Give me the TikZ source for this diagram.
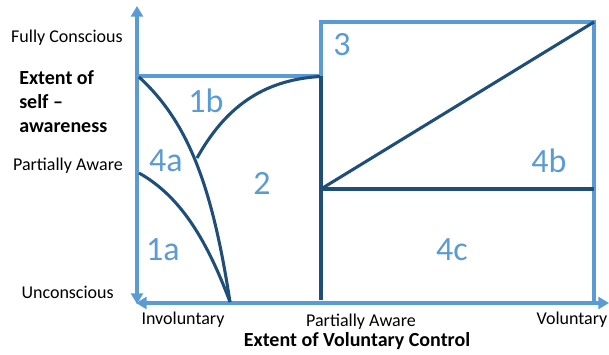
\documentclass[tikz,border=0pt]{standalone}
\usepackage{fontspec}
\setmainfont{Carlito}
\usetikzlibrary{arrows.meta}
\definecolor{lblue}{HTML}{5B9BD5}
\definecolor{dblue}{HTML}{1F4E79}
\tikzset{
  light/.style={draw=lblue, line width=3pt},
  dark/.style={draw=dblue, line width=2.3pt},
  axisarrow/.style={light, {Triangle[width=9pt,length=8pt]}-{Triangle[width=9pt,length=8pt]}},
  region/.style={text=lblue, font=\fontsize{25.5}{27}\selectfont, inner sep=0pt},
  tick/.style={font=\fontsize{13.5}{15}\selectfont, inner sep=0pt},
  title/.style={font=\fontsize{15}{18}\selectfont\bfseries, inner sep=0pt, align=left},
}
\begin{document}
\begin{tikzpicture}[x=0.75pt,y=-0.75pt]
\useasboundingbox (0,0) rectangle (609,354);
% coordinates
\coordinate (Ob) at (137,304);
\coordinate (Ol) at (136,303);
\coordinate (Ytop) at (137,6);
\coordinate (Xend) at (609,303);
\coordinate (A) at (137,76);
\coordinate (B) at (321,76);
\coordinate (C) at (321,22);
\coordinate (D) at (594,22);
\coordinate (E) at (594,303);
\coordinate (F) at (321,189);
\coordinate (G) at (594,189);
\coordinate (H) at (321,300);
\coordinate (P) at (230,302);
\coordinate (Q) at (197,158);
% axes
\draw[axisarrow] (Ytop) -- (Ob);
\draw[axisarrow] (Ol) -- (Xend);
% light box
\draw[light] (A) -- (B);
\draw[light] (B) -- (C) -- (D) -- (E);
% dark lines
\draw[dark] (B) -- (H);
\draw[dark] (F) -- (D);
\draw[dark] (F) -- (G);
\draw[dark] (139,77) .. controls (188,122) and (212,185) .. (P);
\draw[dark] (Q) .. controls (225,108) and (262,80) .. (320,76.5);
\draw[dark] (139,173) .. controls (178,195) and (205,235) .. (P);
% region labels
\node[region] (r1b) at (206,101) {1b};
\node[region] (r4a) at (166,161) {4a};
\node[region] (r2) at (262,183) {2};
\node[region] (r1a) at (163,250) {1a};
\node[region] (r3) at (342,45) {3};
\node[region] (r4b) at (549,161) {4b};
\node[region] (r4c) at (452,250) {4c};
% axis labels
\node[tick, anchor=east] (fc) at (123,38) {Fully Conscious};
\node[tick, anchor=east] (pa) at (123,166) {Partially Aware};
\node[tick, anchor=east] (uc) at (114,292) {Unconscious};
\node[title, anchor=north west] (ysa) at (19,70) {Extent of\\self –\\awareness};
\node[tick] (inv) at (183,320) {Involuntary};
\node[tick] (pa2) at (361,322) {Partially Aware};
\node[tick] (vol) at (572,320) {Voluntary};
\node[title] (xt) at (357,341) {Extent of Voluntary Control};
\end{tikzpicture}
\end{document}
